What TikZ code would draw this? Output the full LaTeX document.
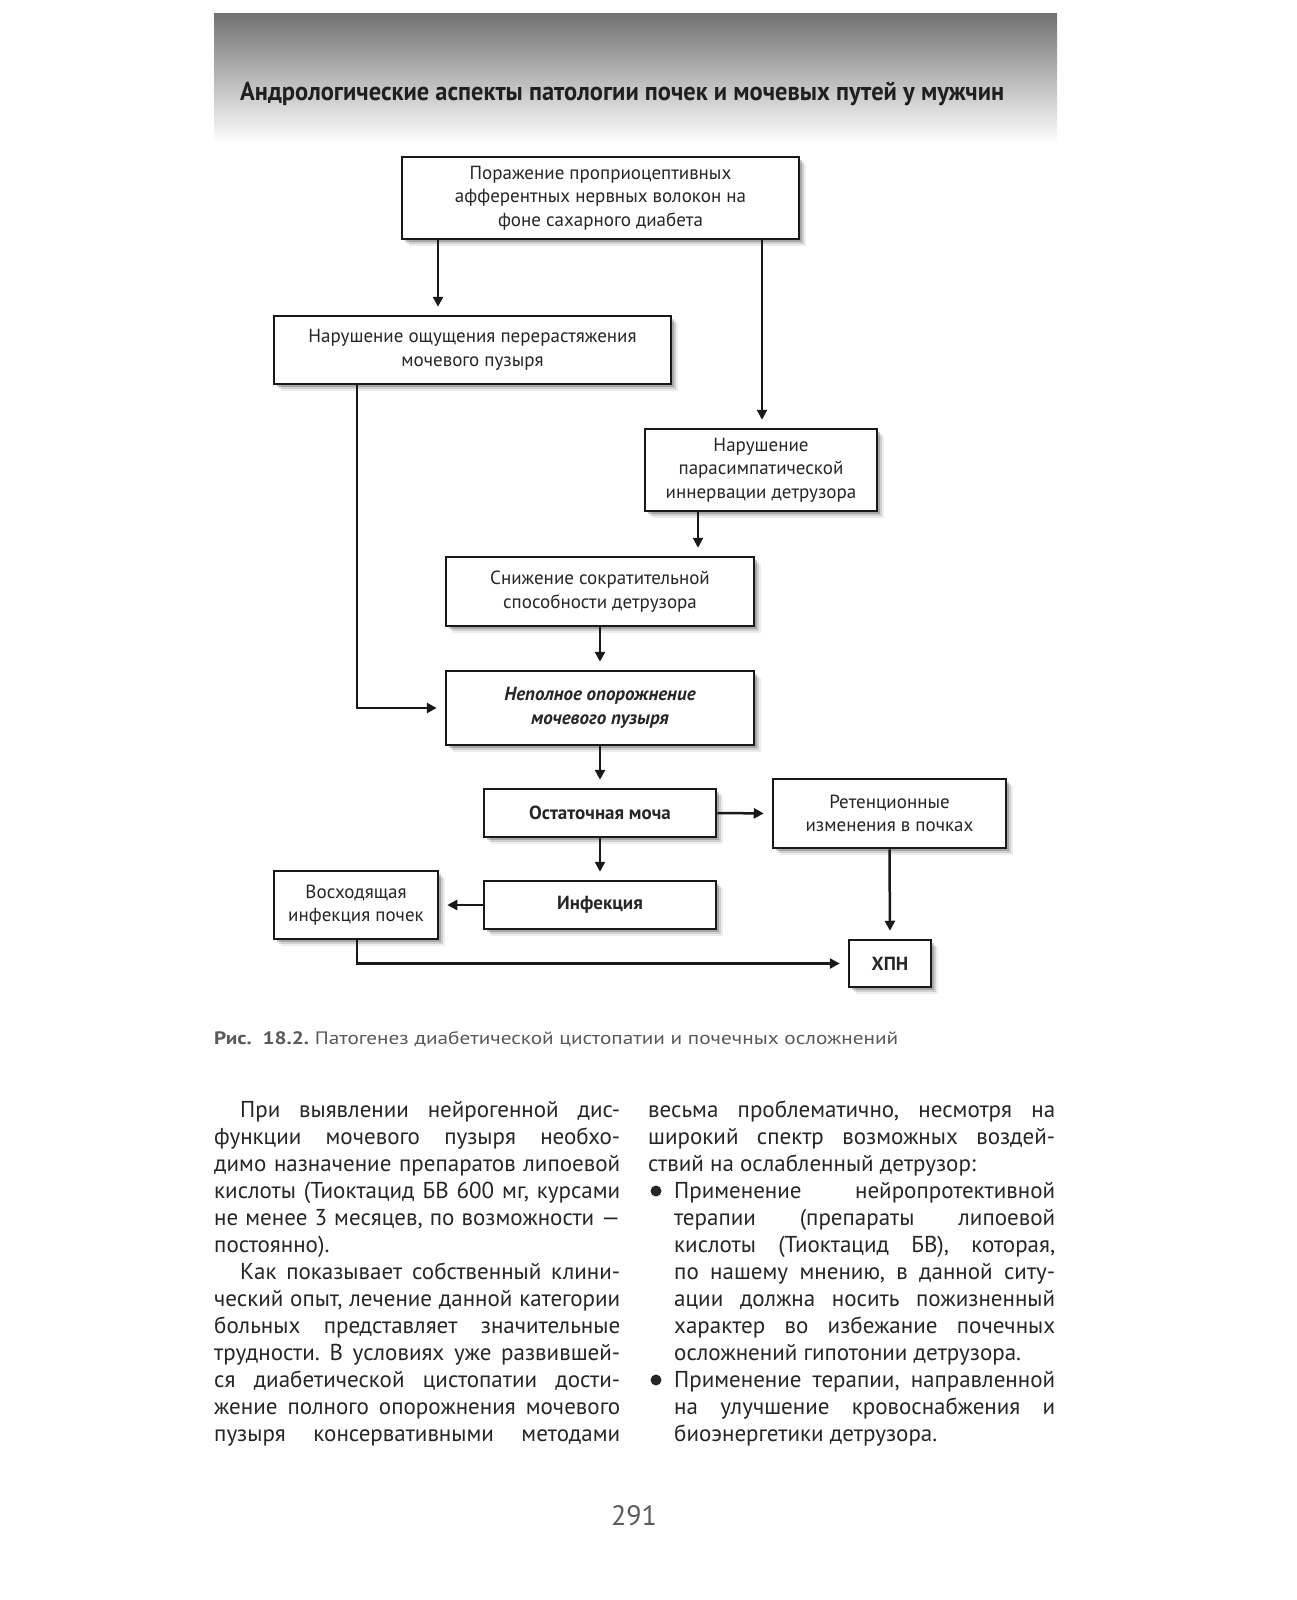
\documentclass[tikz,border=0pt]{standalone}
\usepackage{fontspec}
\setmainfont{PT Sans}
\usepackage{graphicx}
\usetikzlibrary{arrows.meta,shadows}
\frenchspacing
\newsavebox\jlbox
\newcommand\jl[2]{\sbox\jlbox{#2}\ifdim\wd\jlbox>#1\relax\resizebox{#1}{\height}{\usebox\jlbox}\else\makebox[#1][s]{#2}\fi}
\newcommand\fitw[2]{\resizebox{#1}{\height}{#2}}
\begin{document}
\begin{tikzpicture}[x=1pt,y=-1pt,
  box/.style={draw=black!90, line width=2.5pt, fill=white, inner sep=0pt, align=center,
    font=\fontsize{19}{23.5}\selectfont, text=black!85,
    drop shadow={shadow xshift=7pt, shadow yshift=-7pt, opacity=0.07, fill=black},
    drop shadow={shadow xshift=5pt, shadow yshift=-5pt, opacity=0.12, fill=black},
    drop shadow={shadow xshift=3pt, shadow yshift=-3pt, opacity=0.2, fill=black}},
  arr/.style={line width=2.5pt, draw=black!90, -{Triangle[length=10pt,width=10pt]}, shorten >=8pt},
  bodytext/.style={inner sep=0pt, anchor=base west, text=black!85, font=\fontsize{23}{27}\selectfont},
  bullet/.style={fill=black!85}]
\path[use as bounding box, fill=white] (0,0) rectangle (1297,1600);
% header
\shade[top color=black!55, bottom color=white] (214,14) rectangle (1057,143);
\node[inner sep=0pt, anchor=base west, text=black!88, font=\fontsize{26}{30}\selectfont\bfseries] (title) at (240,101)
  {\fitw{764pt}{Андрологические аспекты патологии почек и мочевых путей у мужчин}};
% boxes
\node[box, minimum width=397pt, minimum height=82pt] (b1) at (600.5,198)
  {Поражение проприоцептивных\\афферентных нервных волокон на\\фоне сахарного диабета};
\node[box, minimum width=397pt, minimum height=68pt] (b2) at (472.5,350)
  {Нарушение ощущения перерастяжения\\мочевого пузыря};
\node[box, minimum width=232pt, minimum height=82pt] (b3) at (761,470)
  {Нарушение\\парасимпатической\\иннервации детрузора};
\node[box, minimum width=308pt, minimum height=69pt] (b4) at (600,591.5)
  {Снижение сократительной\\способности детрузора};
\node[box, minimum width=308pt, minimum height=74pt, font=\fontsize{19}{23.5}\selectfont\bfseries\itshape] (b5) at (600,708)
  {Неполное опорожнение\\мочевого пузыря};
\node[box, minimum width=232pt, minimum height=48pt, font=\fontsize{19}{23.5}\selectfont\bfseries] (b6) at (600,813)
  {Остаточная моча};
\node[box, minimum width=233pt, minimum height=69pt] (b7) at (889.5,813.5)
  {Ретенционные\\изменения в почках};
\node[box, minimum width=232pt, minimum height=48pt, font=\fontsize{19}{23.5}\selectfont\bfseries] (b8) at (600,905)
  {Инфекция};
\node[box, minimum width=164pt, minimum height=68pt] (b9) at (356,905)
  {Восходящая\\инфекция почек};
\node[box, minimum width=82pt, minimum height=47pt, font=\fontsize{19}{23.5}\selectfont\bfseries] (b10) at (890,963.5)
  {ХПН};
% helper x positions
\coordinate (xa) at (438,0);
\coordinate (xb) at (762,0);
\coordinate (xc) at (698,0);
\coordinate (xd) at (357,0);
% connectors
\draw[arr] (b1.south -| xa) -- (b2.north -| xa);
\draw[arr] (b1.south -| xb) -- (b3.north -| xb);
\draw[arr] (b3.south -| xc) -- (b4.north -| xc);
\draw[arr] (b4.south) -- (b5.north);
\draw[arr] (b2.south -| xd) |- (b5.west);
\draw[arr] (b5.south) -- (b6.north);
\draw[arr] (b6.east) -- (b7.west);
\draw[arr] (b6.south) -- (b8.north);
\draw[arr] (b8.west) -- (b9.east);
\draw[arr] (b7.south) -- (b10.north);
\draw[arr] (b9.south -| xd) |- (b10.west);
% caption
\node[inner sep=0pt, anchor=base west, text=black!65, font=\fontsize{18}{22}\selectfont] (cap) at (214,1044)
  {\fitw{684pt}{\textbf{Рис.\ \ 18.2.} Патогенез диабетической цистопатии и почечных осложнений}};
% body text
\node[bodytext] (lcol) at (214,1117) {\parbox[t]{406pt}{%
\hspace*{26pt}\jl{380pt}{При выявлении нейрогенной дис-}\\
\jl{406pt}{функции мочевого пузыря необхо-}\\
\jl{406pt}{димо назначение препаратов липоевой}\\
\jl{406pt}{кислоты (Тиоктацид БВ 600 мг, курсами}\\
\jl{406pt}{не менее 3 месяцев, по возможности —}\\
постоянно).\\
\hspace*{26pt}\jl{380pt}{Как показывает собственный клини-}\\
\jl{406pt}{ческий опыт, лечение данной категории}\\
\jl{406pt}{больных представляет значительные}\\
\jl{406pt}{трудности. В условиях уже развившей-}\\
\jl{406pt}{ся диабетической цистопатии дости-}\\
\jl{406pt}{жение полного опорожнения мочевого}\\
\jl{406pt}{пузыря консервативными методами}}};
\node[bodytext] (rcol) at (648,1117) {\parbox[t]{407pt}{%
\jl{407pt}{весьма проблематично, несмотря на}\\
\jl{407pt}{широкий спектр возможных воздей-}\\
ствий на ослабленный детрузор:\\
\hspace*{26pt}\jl{381pt}{Применение нейропротективной}\\
\hspace*{26pt}\jl{381pt}{терапии (препараты липоевой}\\
\hspace*{26pt}\jl{381pt}{кислоты (Тиоктацид БВ), которая,}\\
\hspace*{26pt}\jl{381pt}{по нашему мнению, в данной ситу-}\\
\hspace*{26pt}\jl{381pt}{ации должна носить пожизненный}\\
\hspace*{26pt}\jl{381pt}{характер во избежание почечных}\\
\hspace*{26pt}осложнений гипотонии детрузора.\\
\hspace*{26pt}\jl{381pt}{Применение терапии, направленной}\\
\hspace*{26pt}\jl{381pt}{на улучшение кровоснабжения и}\\
\hspace*{26pt}биоэнергетики детрузора.}};
% bullets
\fill[bullet] (656,1191) circle (5.5);
\fill[bullet] (656,1380) circle (5.5);
% page number
\node[inner sep=0pt, anchor=base, text=black!65, font=\fontsize{28}{32}\selectfont] (pnum) at (634,1525) {291};
\end{tikzpicture}
\end{document}
